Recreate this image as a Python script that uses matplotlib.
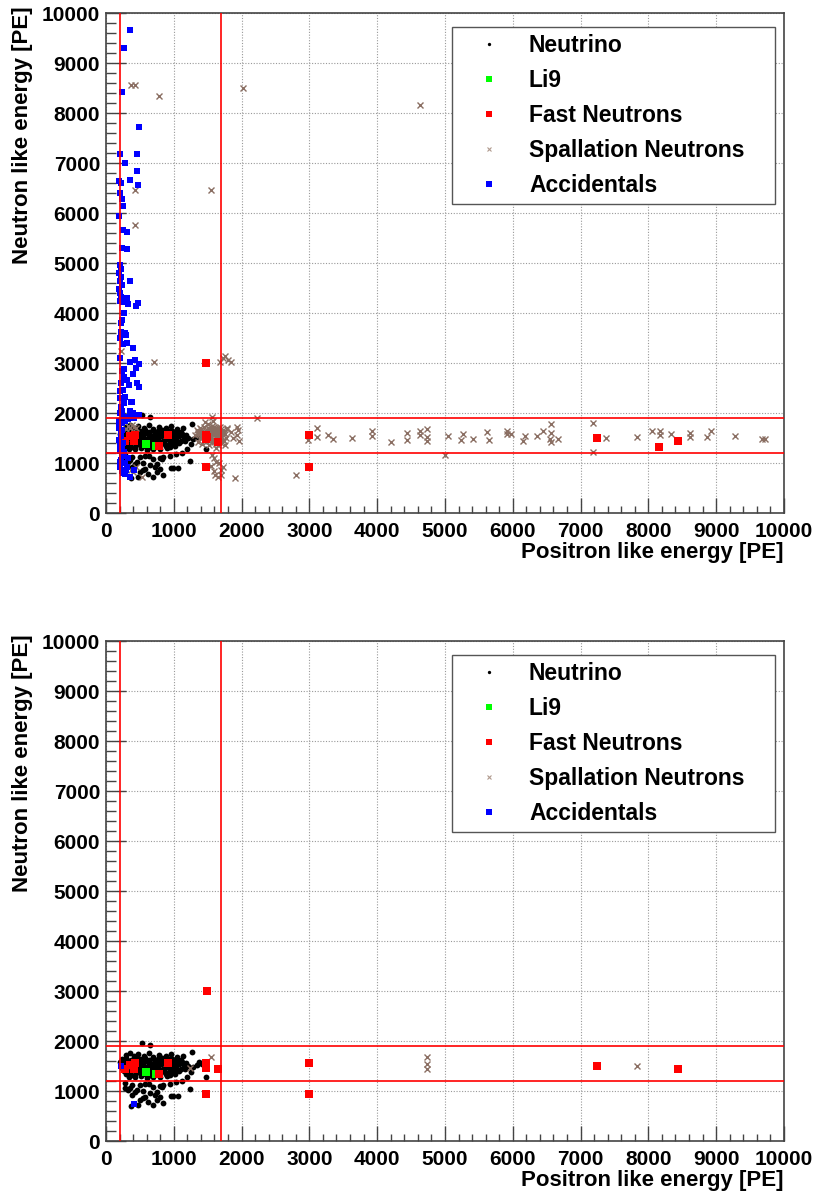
import numpy as np
import matplotlib
matplotlib.use("Agg")
import matplotlib.pyplot as plt
from matplotlib.ticker import MultipleLocator
from matplotlib.lines import Line2D

plt.rcParams['font.family'] = ['Liberation Sans', 'DejaVu Sans']
plt.rcParams['font.weight'] = 'bold'

# cut lines [PE]
X_CUTS = [200, 1700]
Y_CUTS = [1200, 1900]

# neutrino candidates (same events in both panels), (positron, neutron)
NEUTRINO = [
    (290, 1720), (350, 1760), (420, 1700), (470, 1745), (560, 1710), (640, 1760),
    (700, 1690), (780, 1730), (880, 1700), (960, 1740), (1050, 1690), (1130, 1710),
    (230, 1640), (300, 1660), (370, 1630), (440, 1670), (500, 1640), (570, 1660),
    (630, 1630), (700, 1660), (760, 1640), (830, 1670), (900, 1630), (960, 1660),
    (1030, 1640), (1100, 1620),
    (210, 1590), (270, 1580), (330, 1600), (400, 1570), (460, 1600), (530, 1580),
    (590, 1610), (650, 1570), (720, 1600), (790, 1580), (850, 1600), (920, 1570),
    (990, 1600), (1050, 1580), (1120, 1590), (1180, 1570),
    (220, 1520), (280, 1540), (350, 1510), (420, 1540), (480, 1520), (550, 1530),
    (620, 1510), (680, 1540), (750, 1520), (810, 1540), (880, 1510), (950, 1530),
    (1010, 1510), (1080, 1540), (1150, 1520), (1210, 1500),
    (240, 1470), (300, 1450), (370, 1480), (430, 1460), (500, 1470), (570, 1450),
    (640, 1480), (700, 1460), (770, 1470), (840, 1450), (900, 1480), (970, 1460),
    (1040, 1470), (1110, 1450), (1170, 1440),
    (270, 1410), (340, 1390), (400, 1420), (470, 1400), (530, 1410), (600, 1390),
    (660, 1420), (730, 1400), (800, 1410), (870, 1390), (940, 1410), (1000, 1390),
    (1070, 1400),
    (300, 1350), (370, 1330), (440, 1360), (510, 1340), (580, 1350), (650, 1330),
    (720, 1350), (800, 1340), (880, 1350), (950, 1330), (1020, 1340),
    (340, 1290), (430, 1280), (520, 1300), (610, 1270), (700, 1290), (800, 1280),
    (900, 1300),
    (1264, 1793), (1288, 1493), (1249, 1393), (1190, 1293), (1376, 1593),
    (1470, 1293), (1420, 1540), (1340, 1520), (526, 1960), (649, 1926),
    (280, 1160), (379, 1126), (354, 1060), (452, 1026), (501, 1126), (575, 1140),
    (639, 1140), (698, 1093), (796, 1113), (846, 1126), (944, 1153), (1032, 1193),
    (1116, 1206), (1239, 1046), (983, 913), (1067, 906), (747, 993), (722, 926),
    (649, 960), (550, 1006), (575, 893), (501, 826), (624, 793), (747, 826),
    (698, 726), (846, 760), (379, 926), (428, 980), (329, 1026), (477, 726),
    (550, 860), (796, 893), (280, 1060), (364, 713), (826, 1093), (959, 900),
]

LI9 = [(590, 1390), (733, 1355)]

FAST_TOP = [
    (280, 1446), (354, 1546), (428, 1566), (413, 1446), (919, 1566), (786, 1353),
    (1475, 1566), (1475, 1480), (1485, 1533), (1657, 1433), (1475, 926),
    (1475, 3013), (2998, 1566), (2998, 933), (7237, 1506), (8161, 1320), (8441, 1446),
]
FAST_BOTTOM = [
    (280, 1440), (354, 1526), (428, 1573), (413, 1440), (919, 1573), (786, 1340),
    (1475, 1573), (1475, 1460), (1657, 1440), (1475, 940), (1490, 3006),
    (2998, 1573), (2998, 940), (7237, 1506), (8441, 1446),
]

SPALLATION_TOP = [
    # blob just below 1700 PE
    (1320, 1560), (1350, 1620), (1380, 1500), (1400, 1680), (1420, 1580), (1440, 1450),
    (1450, 1720), (1470, 1640), (1490, 1540), (1500, 1780), (1510, 1460), (1530, 1690),
    (1540, 1600), (1550, 1500), (1560, 1420), (1570, 1740), (1580, 1650), (1590, 1560),
    (1600, 1480), (1610, 1700), (1620, 1610), (1630, 1530), (1640, 1440), (1650, 1660),
    (1660, 1580), (1670, 1500), (1680, 1720), (1690, 1620), (1700, 1540), (1720, 1470),
    (1730, 1660), (1750, 1580), (1770, 1500), (1780, 1700), (1420, 1380), (1520, 1360),
    (1620, 1380), (1700, 1400), (1360, 1420), (1460, 1820), (1580, 1840), (1480, 1600),
    (1560, 1620), (1520, 1560), (1600, 1600), (1640, 1560), (1380, 1700),
    (1340, 1660), (1400, 1620), (1410, 1520), (1450, 1580), (1460, 1500), (1500, 1640),
    (1500, 1700), (1530, 1620), (1540, 1520), (1560, 1680), (1570, 1580), (1590, 1720),
    (1610, 1640), (1620, 1540), (1640, 1700), (1660, 1640), (1680, 1560), (1700, 1680),
    (1710, 1600), (1540, 1440), (1600, 1420), (1660, 1460), (1470, 1420), (1360, 1580),
    (1790, 1680), (1740, 1600), (1755, 1366), (1740, 1453), (1947, 1666), (1927, 1566),
    (1956, 1453), (1927, 1733), (1840, 1620), (1880, 1500),
    (1593, 1100), (1564, 1166), (1627, 1033), (1553, 953), (1700, 866), (1725, 933),
    (1607, 766), (1653, 733), (1691, 760), (1907, 713), (2802, 766), (1627, 1300),
    (1652, 1366), (1600, 850), (1660, 1000),
    (1559, 1920), (2222, 1913), (1549, 6473), (2025, 8506), (4631, 8166), (781, 8346),
    (364, 8566), (428, 8566), (428, 6466), (428, 5766), (216, 3253), (713, 3020),
    (1725, 3100), (1802, 3066), (1838, 3020), (1676, 3020), (1760, 3140),
    (330, 1740), (380, 1760), (420, 1720), (450, 1700), (360, 1700), (300, 1680),
    (369, 866), (526, 733), (398, 833), (437, 920),
    (2975, 1466), (3107, 1700), (3117, 1533), (3269, 1566), (3343, 1493), (3623, 1506),
    (3918, 1646), (3918, 1546), (4204, 1426), (4444, 1613), (4434, 1466), (4631, 1640),
    (4631, 1560), (4729, 1680), (4729, 1533), (4729, 1446), (5000, 1160), (5048, 1546),
    (5260, 1580), (5236, 1466), (5418, 1493), (5615, 1626), (5644, 1466), (5910, 1653),
    (5910, 1580), (5969, 1580), (6180, 1546), (6155, 1453), (6362, 1546), (6450, 1653),
    (6558, 1786), (6558, 1600), (6548, 1480), (6563, 1426), (6671, 1493), (7187, 1800),
    (7187, 1226), (7375, 1506), (7827, 1520), (8053, 1653), (8171, 1653), (8171, 1566),
    (8328, 1586), (8613, 1613), (8613, 1520), (8869, 1520), (8923, 1646), (9277, 1546),
    (9670, 1493), (9719, 1493),
]
SPALLATION_BOTTOM = [(1549, 1693), (1240, 1470), (4729, 1680), (4729, 1540),
                     (4729, 1453), (7827, 1513)]

ACCIDENTALS_TOP = [
    (359, 9659), (270, 9306), (241, 8426), (482, 7733), (202, 7180), (452, 7186),
    (280, 7000), (462, 6840), (192, 6646), (221, 6613), (349, 6660), (477, 6566),
    (202, 6406), (241, 6286), (251, 6146), (192, 5946), (251, 5666), (315, 5626),
    (236, 5300), (315, 5286),
    (200, 4960), (215, 4880), (195, 4800), (220, 4720), (200, 4640), (230, 4560),
    (195, 4480), (210, 4400), (225, 4320), (200, 4240), (349, 4646), (315, 4313),
    (251, 4233), (329, 4186), (467, 4200), (442, 4146), (266, 4000), (236, 3866),
    (221, 3813), (226, 3633), (280, 3600), (300, 3573), (251, 3380), (310, 3400),
    (403, 3300), (428, 3066), (354, 3020), (487, 2980), (437, 2900), (261, 2893),
    (270, 2720), (398, 2786), (305, 2666), (334, 2566), (452, 2600), (482, 2520),
    (211, 2453), (256, 2466), (275, 2333), (270, 2200), (369, 2226), (216, 2133),
    (349, 2053), (403, 2000), (452, 1973), (487, 1973), (206, 2000), (256, 1933),
    (305, 1933), (379, 1946), (231, 2053), (200, 2300), (220, 2600), (200, 3100),
    (210, 3500), (230, 2850), (195, 1850), (240, 1800), (280, 1850), (330, 1880),
    (420, 1900), (379, 2233),
    (197, 1733), (216, 1600), (187, 1466), (206, 1366), (231, 1666), (261, 1220),
    (202, 1033), (275, 1000), (408, 866), (251, 813), (231, 853), (305, 933),
    (354, 733), (221, 1066), (200, 1250), (240, 1150), (210, 920), (280, 780),
    (330, 1100), (215, 1540), (250, 1400), (190, 1700), (230, 1320), (290, 870),
]
ACCIDENTALS_BOTTOM = [(217, 1506), (413, 740)]

LEGEND_LABELS = ["Neutrino", "Li9", "Fast Neutrons", "Spallation Neutrons", "Accidentals"]


def xy(points):
    arr = np.array(points, dtype=float)
    return arr[:, 0], arr[:, 1]


def draw_panel(ax, fast, spallation, accidentals):
    ax.set_xlim(0, 10000)
    ax.set_ylim(0, 10000)

    x, y = xy(NEUTRINO)
    ax.plot(x, y, 'o', ms=4.2, mew=0, color='black', zorder=3)
    x, y = xy(spallation)
    ax.plot(x, y, 'x', ms=3.8, mew=1.0, color='#8a6e62', zorder=4)
    x, y = xy(LI9)
    ax.plot(x, y, 's', ms=5.2, mew=0, color='#00ff00', zorder=5)
    x, y = xy(fast)
    ax.plot(x, y, 's', ms=5.2, mew=0, color='#ff0000', zorder=6)
    x, y = xy(accidentals)
    ax.plot(x, y, 's', ms=4.8, mew=0, color='#0000ff', zorder=7)

    for v in X_CUTS:
        ax.axvline(v, color='#ff0000', lw=1.2, zorder=8)
    for h in Y_CUTS:
        ax.axhline(h, color='#ff0000', lw=1.2, zorder=8)

    ax.xaxis.set_major_locator(MultipleLocator(1000))
    ax.xaxis.set_minor_locator(MultipleLocator(200))
    ax.yaxis.set_major_locator(MultipleLocator(1000))
    ax.yaxis.set_minor_locator(MultipleLocator(200))
    ax.grid(True, which='major', color='#999999', linestyle=(0, (1, 1.5)), lw=0.8, zorder=1)

    ax.tick_params(which='both', direction='in', top=False, right=False,
                   color='#444444', width=1, labelsize=15)
    ax.xaxis.set_tick_params(which='major', length=10.8, pad=6)
    ax.xaxis.set_tick_params(which='minor', length=5)
    ax.yaxis.set_tick_params(which='major', length=14.4, pad=4.3)
    ax.yaxis.set_tick_params(which='minor', length=7.2)
    for s in ax.spines.values():
        s.set_color('#444444')
        s.set_linewidth(1.2)

    ax.set_xlabel("Positron like energy [PE]", fontsize=16, fontweight='bold', loc='right')
    ax.xaxis.set_label_coords(1.0, -0.057)
    ax.xaxis.label.set_va('top')
    ax.set_ylabel("Neutron like energy [PE]", fontsize=16, fontweight='bold', loc='top')
    ax.yaxis.set_label_coords(-0.123, 1.014)
    ax.yaxis.label.set_va('center')

    handles = [
        Line2D([], [], ls='none', marker='o', ms=2.4, mew=0, color='black'),
        Line2D([], [], ls='none', marker='s', ms=3.8, mew=0, color='#00ff00'),
        Line2D([], [], ls='none', marker='s', ms=3.8, mew=0, color='#ff0000'),
        Line2D([], [], ls='none', marker='x', ms=2.6, mew=0.8, color='#b09a8e'),
        Line2D([], [], ls='none', marker='s', ms=3.8, mew=0, color='#0000ff'),
    ]
    leg = ax.legend(handles, LEGEND_LABELS, loc='upper left',
                    bbox_to_anchor=(0.510, 0.621, 0.477, 0.352), mode='expand',
                    borderaxespad=0, prop={'weight': 'bold', 'size': 16.5},
                    frameon=True, fancybox=False, framealpha=1, edgecolor='#555555',
                    borderpad=0.32, labelspacing=0.52, handlelength=2.6,
                    handletextpad=0.45)
    leg.get_frame().set_linewidth(1.0)
    leg.set_zorder(10)


fig = plt.figure(figsize=(8.19, 11.94), dpi=100)
ax_top = fig.add_axes([0.1294, 0.5701, 0.8278, 0.4188])
ax_bot = fig.add_axes([0.1294, 0.0441, 0.8278, 0.4188])

draw_panel(ax_top, FAST_TOP, SPALLATION_TOP, ACCIDENTALS_TOP)
draw_panel(ax_bot, FAST_BOTTOM, SPALLATION_BOTTOM, ACCIDENTALS_BOTTOM)

fig.savefig("out.png", dpi=100, facecolor='white')
